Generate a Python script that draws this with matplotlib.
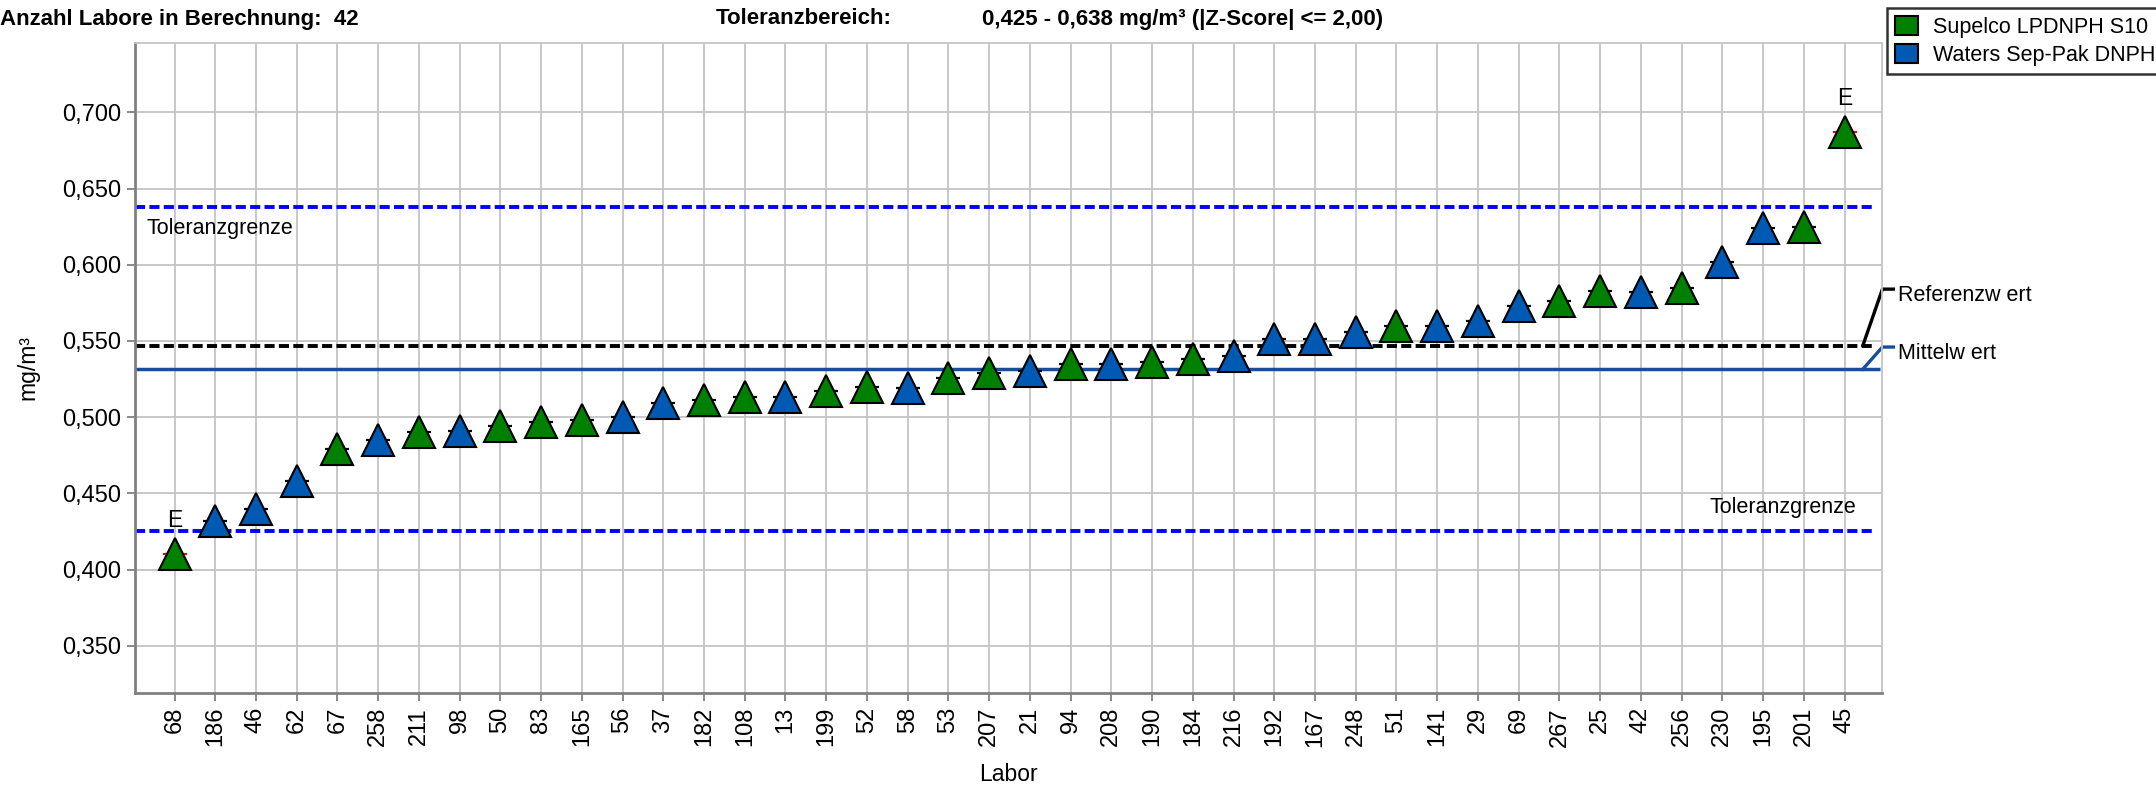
import matplotlib
matplotlib.use("Agg")
import matplotlib.pyplot as plt
from matplotlib.patches import Patch

plt.rcParams['font.family'] = ['Liberation Sans', 'DejaVu Sans']

# Labs in sorted order, their values (mg/m³) and cartridge type
labs = ['68', '186', '46', '62', '67', '258', '211', '98', '50', '83', '165', '56',
        '37', '182', '108', '13', '199', '52', '58', '53', '207', '21', '94', '208',
        '190', '184', '216', '192', '167', '248', '51', '141', '29', '69', '267', '25',
        '42', '256', '230', '195', '201', '45']
values = [0.410, 0.432, 0.440, 0.458, 0.479, 0.485, 0.490, 0.491, 0.494, 0.497, 0.498, 0.500,
          0.509, 0.511, 0.513, 0.513, 0.517, 0.520, 0.519, 0.526, 0.529, 0.530, 0.535, 0.535,
          0.536, 0.538, 0.540, 0.551, 0.551, 0.556, 0.560, 0.560, 0.563, 0.573, 0.576, 0.583,
          0.582, 0.585, 0.602, 0.624, 0.625, 0.687]
kartusche = ['S', 'W', 'W', 'W', 'S', 'W', 'S', 'W', 'S', 'S', 'S', 'W',
             'W', 'S', 'S', 'W', 'S', 'S', 'W', 'S', 'S', 'W', 'S', 'W',
             'S', 'S', 'W', 'W', 'W', 'W', 'S', 'W', 'W', 'W', 'S', 'S',
             'W', 'S', 'W', 'W', 'S', 'S']
outlier_labs = ['68', '45']

tol_low = 0.425
tol_high = 0.638
referenzwert = 0.547
mittelwert = 0.5315

colors = {'S': '#008000', 'W': '#0059B3'}
names = {'S': 'Supelco LPDNPH S10', 'W': 'Waters Sep-Pak DNPH'}

fig = plt.figure(figsize=(21.56, 7.86), dpi=100)
ax = fig.add_axes([135 / 2156, 1 - 693 / 786, (1882 - 135) / 2156, (693 - 43) / 786])

x = list(range(len(labs)))
xmin, xmax = -0.97, 41.92
ax.set_xlim(xmin, xmax)
ax.set_ylim(0.319, 0.7455)

# reference lines
line_end = 41.69
dash = (0, (2.6, 1.1))
ax.hlines([tol_high, tol_low], xmin, line_end, colors='#0000FF', linewidth=2.8,
          linestyles=dash, zorder=2)
ax.hlines(referenzwert, xmin, line_end, colors='black', linewidth=2.8,
          linestyles=dash, zorder=2)
ax.hlines(mittelwert, xmin, 41.86, colors='#164E9C', linewidth=2.5, zorder=2)

# value ticks under the markers, then triangles
for xi, lab, v, k in zip(x, labs, values, kartusche):
    tick_col = 'red' if lab in outlier_labs else 'black'
    ax.plot(xi, v, marker='_', markersize=17, mew=1.6, color=tick_col, zorder=3)
    ax.plot(xi, v, marker='^', markersize=23, markerfacecolor=colors[k],
            markeredgecolor='black', mew=1.5, linestyle='none', zorder=4)
    if lab in outlier_labs:
        ax.annotate('E', (xi, v), xytext=(0, 24), textcoords='offset points',
                    ha='center', va='center', fontsize=16.5)

# line labels
ax.text(-0.68, 0.624, 'Toleranzgrenze', fontsize=15.5, va='center', ha='left')
ax.text(41.3, 0.441, 'Toleranzgrenze', fontsize=15.5, va='center', ha='right')
ax.plot([41.45, 41.93, 42.2], [referenzwert, 0.584, 0.584], color='black',
        linewidth=2.4, clip_on=False, zorder=2)
ax.plot([41.45, 41.93, 42.2], [mittelwert, 0.546, 0.546], color='#164E9C',
        linewidth=2.4, clip_on=False, zorder=2)
ax.text(42.32, 0.580, 'Referenzw ert', fontsize=15.5, va='center', ha='left')
ax.text(42.32, 0.542, 'Mittelw ert', fontsize=15.5, va='center', ha='left')

# axes styling
ax.set_xticks(x)
ax.set_xticklabels(labs, rotation=90, fontsize=17)
yt = [0.35, 0.40, 0.45, 0.50, 0.55, 0.60, 0.65, 0.70]
ax.set_yticks(yt)
ax.set_yticklabels([f'{t:.3f}'.replace('.', ',') for t in yt], fontsize=17)
ax.grid(True, color='#C4C4C4', linewidth=1.3, zorder=0)
ax.set_axisbelow(True)
ax.tick_params(axis='both', length=6, width=1.3, color='#808080', pad=4)
for s in ['left', 'bottom']:
    ax.spines[s].set_color('#808080')
    ax.spines[s].set_linewidth(2)
for s in ['top', 'right']:
    ax.spines[s].set_color('#C4C4C4')
    ax.spines[s].set_linewidth(1.3)
ax.set_xlabel('Labor', fontsize=16.5, labelpad=12)
ax.set_ylabel('mg/m³', fontsize=16.5, labelpad=16)

# header
hdr = dict(fontsize=16, fontweight='bold', va='center')
fig.text(0 / 2156, 1 - 19 / 786, 'Anzahl Labore in Berechnung:  42', ha='left', **hdr)
fig.text(716 / 2156, 1 - 19 / 786, 'Toleranzbereich:', ha='left', **hdr)
fig.text(982 / 2156, 1 - 19 / 786, '0,425 - 0,638 mg/m³ (|Z-Score| <= 2,00)', ha='left', **hdr)

# legend
handles = [Patch(facecolor=colors[k], edgecolor='black', linewidth=1.5, label=names[k])
           for k in ['S', 'W']]
leg = fig.legend(handles=handles, loc='upper left', bbox_to_anchor=(1887 / 2156, 1 - 8 / 786),
                 fontsize=15.5, fancybox=False, edgecolor='black', borderaxespad=0,
                 handlelength=1.1, handleheight=1.0, handletextpad=0.7, labelspacing=0.3,
                 borderpad=0.35)
leg.get_frame().set_linewidth(1.8)

fig.savefig('out.png', dpi=100)
